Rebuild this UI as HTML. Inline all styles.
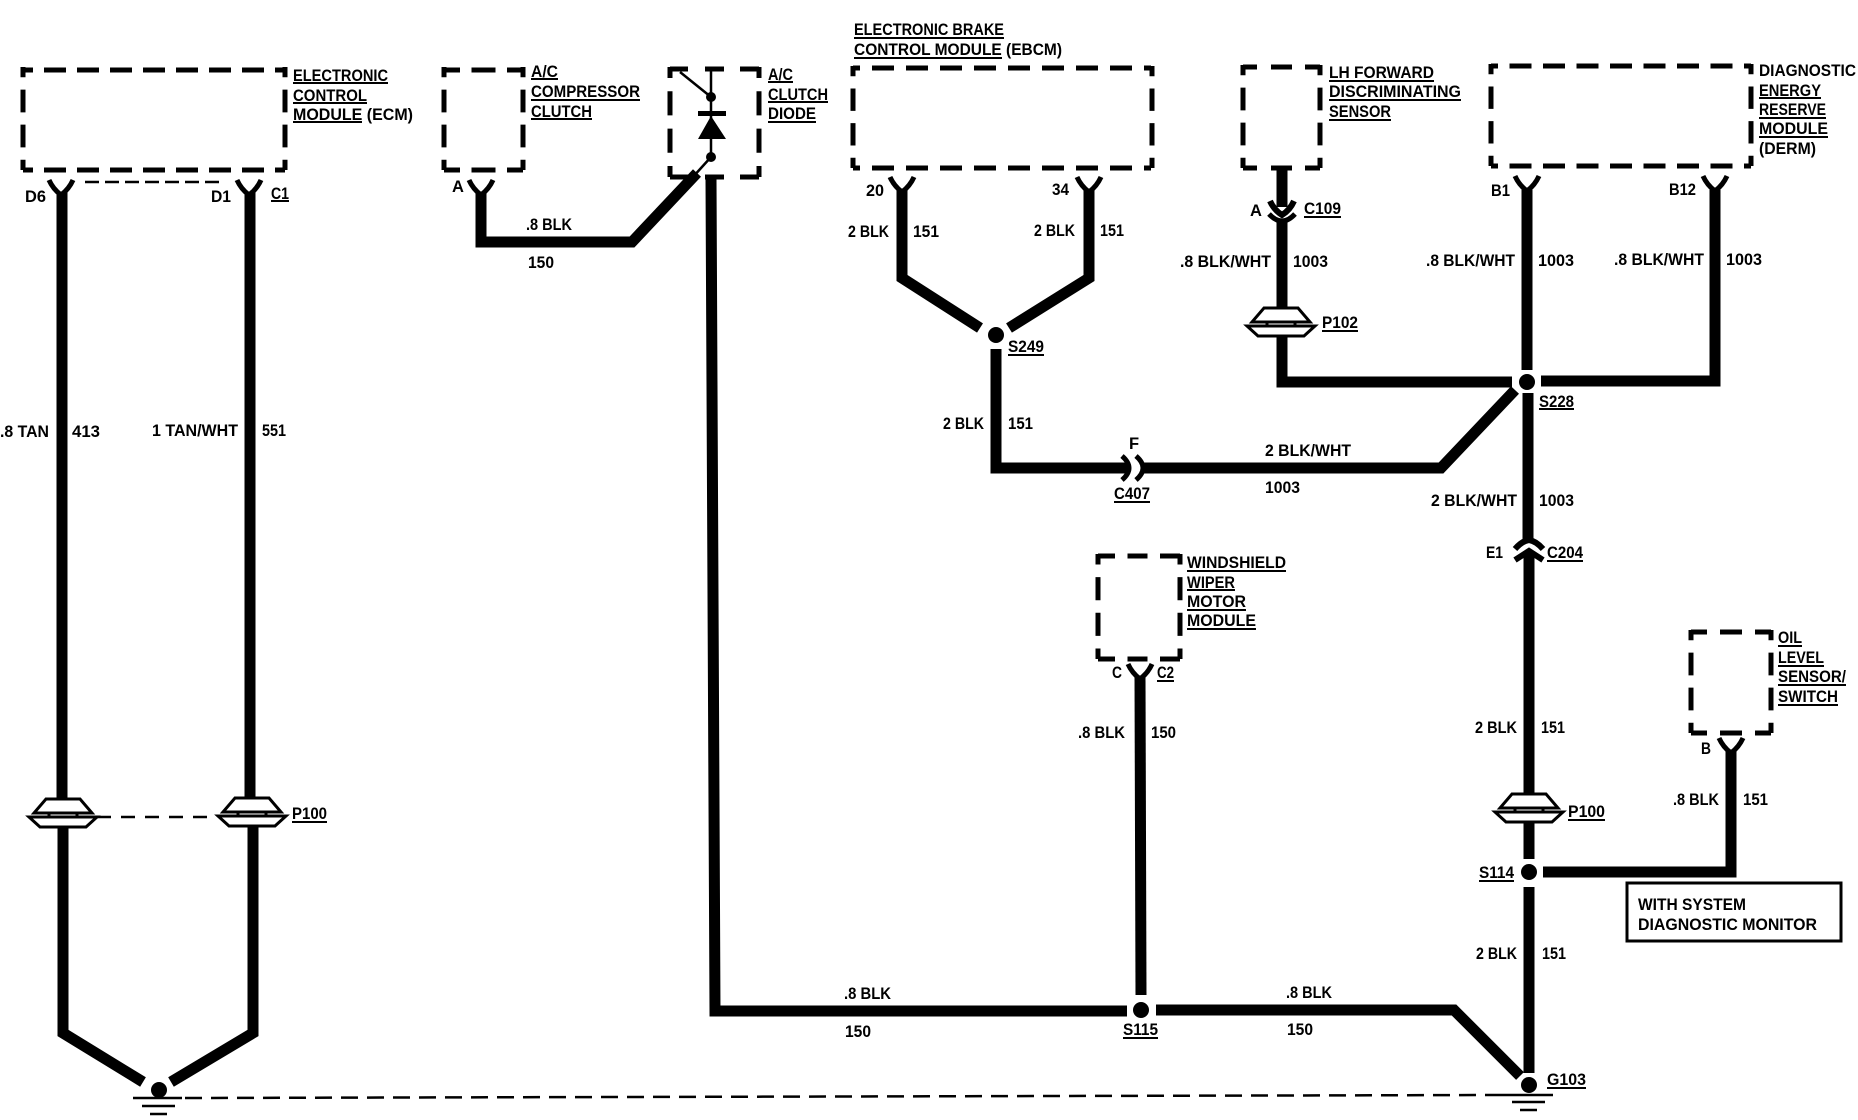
<!DOCTYPE html>
<html><head><meta charset="utf-8"><style>
html,body{margin:0;padding:0;background:#fff}
svg{display:block}
text{font-family:"Liberation Sans",sans-serif;font-weight:bold;font-size:16.5px;fill:#000}
.w{fill:none;stroke:#000;stroke-width:11;stroke-linejoin:miter}
.b{fill:none;stroke:#000;stroke-width:5}
.y{fill:none;stroke:#000;stroke-width:5}
.t{fill:none;stroke:#000;stroke-width:2.5}
.ul{fill:none;stroke:#000;stroke-width:2}
.v{stroke-dasharray:10 12 22 12 22 12 10}
</style></head><body>
<svg width="1858" height="1120" viewBox="0 0 1858 1120" xmlns="http://www.w3.org/2000/svg">
<defs>
<g id="y"><path class="y" d="M-12 0Q-8 9 0 15Q8 9 12 0"/></g>
<g id="cl"><path d="M-17-18H17L29-4H-29Z" fill="#fff" stroke="#000" stroke-width="3"/><path d="M-34 0H34L23 10H-23Z" fill="#fff" stroke="#000" stroke-width="3"/><path d="M-14-4V0M14-4V0" stroke="#000" stroke-width="3"/></g>
</defs>
<rect width="1858" height="1120" fill="#fff"/>

<!-- dashed boxes -->
<path class="b" d="M23 70H285M23 170H285" stroke-dasharray="10 11 22 11 22 11 22 11 22 11 22 11 22 11 22 11 10 500"/>
<path class="b v" d="M23 67V170" pathLength="100"/><path class="b v" d="M285 67V170" pathLength="100"/>
<path class="b" d="M444 70H523M444 170H523" stroke-dasharray="16 11.5 24 11.5 16 500"/>
<path class="b v" d="M444 67V170" pathLength="100"/><path class="b v" d="M523 67V170" pathLength="100"/>
<path class="b" d="M670 69H759M670 177H759" stroke-dasharray="18 17 19 16 19 500"/>
<path class="b v" d="M670 67V177" pathLength="100"/><path class="b v" d="M759 67V177" pathLength="100"/>
<path class="b" d="M853 68H1152M853 168H1152" stroke-dasharray="7 12 22 12 22 12 22 12 22 12 22 12 22 12 22 12 22 12 7 500"/>
<path class="b v" d="M853 66V168" pathLength="100"/><path class="b v" d="M1152 66V168" pathLength="100"/>
<path class="b" d="M1243 67H1320M1243 168H1320" stroke-dasharray="14 14 21 13 15 500"/>
<path class="b v" d="M1243 65V168" pathLength="100"/><path class="b v" d="M1320 65V168" pathLength="100"/>
<path class="b" d="M1491 66H1751M1491 166H1751" stroke-dasharray="7 11.5 22 11.5 22 11.5 22 11.5 22 11.5 22 11.5 22 11.5 22 11.5 7 500"/>
<path class="b v" d="M1491 64V166" pathLength="100"/><path class="b v" d="M1751 64V166" pathLength="100"/>
<path class="b" d="M1098 556H1180M1098 659H1180" stroke-dasharray="17 12.5 20 12.5 20 500"/>
<path class="b v" d="M1098 554V659" pathLength="100"/><path class="b v" d="M1180 554V659" pathLength="100"/>
<path class="b" d="M1691 632H1771M1691 733H1771" stroke-dasharray="16 13 22 13 16 500"/>
<path class="b v" d="M1691 630V733" pathLength="100"/><path class="b v" d="M1771 630V733" pathLength="100"/>

<!-- Y connectors -->
<use href="#y" x="61" y="180"/><use href="#y" x="249" y="180"/><use href="#y" x="481" y="180"/>
<use href="#y" x="902" y="177"/><use href="#y" x="1089" y="177"/>
<use href="#y" x="1527" y="176"/><use href="#y" x="1715" y="176"/>
<use href="#y" x="1140" y="664"/><use href="#y" x="1731" y="738"/>

<!-- thin dashed -->
<path class="t" d="M85 182H225" stroke-dasharray="14 6"/>
<path class="t" d="M97 817H217" stroke-dasharray="14 10"/>
<path class="t" d="M185 1098L1495 1095" stroke-dasharray="17 9"/>

<!-- wires -->
<path class="w" d="M62 192V799M63 827V1033L143 1082"/>
<path class="w" d="M250 192V799M253 827V1033L171 1082"/>
<path class="w" d="M481 193V242H632L697 173"/>
<path class="w" d="M711 178L715 1011H1127"/>
<path class="w" d="M1156 1010H1454L1520 1076"/>
<path class="w" d="M1140 676L1141 995"/>
<path class="w" d="M902 190V278L980 328"/>
<path class="w" d="M1089 190V278L1009 328"/>
<path class="w" d="M996 349V468H1130"/>
<path class="w" d="M1144 468H1441L1515 390"/>
<path class="w" d="M1282 168V207M1282 222V308M1282 334V382H1512"/>
<path class="w" d="M1541 381H1715V190"/>
<path class="w" d="M1527 190V370M1528 393V543"/>
<path class="w" d="M1529 553V794M1529 822V859M1529 887V1073"/>
<path class="w" d="M1543 872H1731V750"/>

<!-- diode -->
<path class="t" d="M711 70V157M680 72L711 97M711 157L692 178"/>
<circle cx="711" cy="97" r="5"/><circle cx="711" cy="157" r="5"/>
<path d="M698 111H726V116H698ZM711 116L726 139H698Z"/>

<!-- connectors -->
<path class="y" style="stroke-width:6" d="M1270 201Q1274 210 1282 215Q1290 210 1294 201"/>
<path class="y" d="M1269 214Q1282 228 1295 214"/>
<path class="y" style="stroke-width:6" d="M1515 549Q1522 541 1529 540Q1536 541 1543 549"/>
<path class="y" style="stroke-width:6" d="M1515 560L1529 551L1543 560"/>
<path class="y" d="M1122 456Q1136 468 1122 480M1136 456Q1150 468 1136 480"/>
<use href="#cl" x="63" y="817"/><use href="#cl" x="252" y="816"/>
<use href="#cl" x="1281" y="326"/><use href="#cl" x="1529" y="812"/>

<!-- dots -->
<circle cx="159" cy="1090" r="8"/><circle cx="996" cy="335" r="8"/><circle cx="1527" cy="382" r="8"/>
<circle cx="1529" cy="872" r="8"/><circle cx="1141" cy="1010" r="8"/><circle cx="1529" cy="1085" r="8"/>

<!-- grounds -->
<path class="t" d="M133 1098H182M142 1106H175M150 1114H167" stroke-width="3"/>
<path class="t" d="M1495 1095H1553M1512 1102H1545M1520 1110H1537" stroke-width="3"/>

<!-- box -->
<rect x="1627" y="883" width="214" height="58" fill="#fff" stroke="#000" stroke-width="3"/>

<!-- underlines -->
<path class="ul" d="M293 83H388M293 103H367M293 122H362M271 201H289M531 79H558M531 100H640M531 119H592M768 82H793M768 102H828M768 122H816M854 38H1004M854 58H1002M1329 81H1434M1329 100H1461M1329 120H1391M1759 98H1821M1759 118H1826M1759 137H1828M1304 217H1341M1322 331H1358M1008 355H1044M1539 409H1574M1114 502H1150M1547 561H1583M1187 571H1286M1187 590H1235M1187 610H1246M1187 629H1256M1157 681H1174M1778 646H1802M1778 666H1824M1778 685H1846M1778 705H1838M1568 820H1605M1479 881H1514M1123 1038H1158M1547 1088H1586M292 822H327"/>

<!-- labels -->
<text x="293" y="81" textLength="95" lengthAdjust="spacingAndGlyphs">ELECTRONIC</text>
<text x="293" y="101" textLength="74" lengthAdjust="spacingAndGlyphs">CONTROL</text>
<text x="293" y="120" textLength="120" lengthAdjust="spacingAndGlyphs">MODULE (ECM)</text>
<text x="25" y="202" textLength="21" lengthAdjust="spacingAndGlyphs">D6</text>
<text x="211" y="202" textLength="20" lengthAdjust="spacingAndGlyphs">D1</text>
<text x="271" y="199" textLength="18" lengthAdjust="spacingAndGlyphs">C1</text>
<text x="452" y="192">A</text>
<text x="526" y="230" textLength="46" lengthAdjust="spacingAndGlyphs">.8 BLK</text>
<text x="528" y="268" textLength="26" lengthAdjust="spacingAndGlyphs">150</text>
<text x="531" y="77" textLength="27" lengthAdjust="spacingAndGlyphs">A/C</text>
<text x="531" y="97" textLength="109" lengthAdjust="spacingAndGlyphs">COMPRESSOR</text>
<text x="531" y="117" textLength="61" lengthAdjust="spacingAndGlyphs">CLUTCH</text>
<text x="768" y="80" textLength="25" lengthAdjust="spacingAndGlyphs">A/C</text>
<text x="768" y="100" textLength="60" lengthAdjust="spacingAndGlyphs">CLUTCH</text>
<text x="768" y="119" textLength="48" lengthAdjust="spacingAndGlyphs">DIODE</text>
<text x="0" y="437" textLength="49" lengthAdjust="spacingAndGlyphs">.8 TAN</text>
<text x="72" y="437" textLength="28" lengthAdjust="spacingAndGlyphs">413</text>
<text x="152" y="436" textLength="86" lengthAdjust="spacingAndGlyphs">1 TAN/WHT</text>
<text x="262" y="436" textLength="24" lengthAdjust="spacingAndGlyphs">551</text>
<text x="854" y="35" textLength="150" lengthAdjust="spacingAndGlyphs">ELECTRONIC BRAKE</text>
<text x="854" y="55" textLength="208" lengthAdjust="spacingAndGlyphs">CONTROL MODULE (EBCM)</text>
<text x="1329" y="78" textLength="105" lengthAdjust="spacingAndGlyphs">LH FORWARD</text>
<text x="1329" y="97" textLength="132" lengthAdjust="spacingAndGlyphs">DISCRIMINATING</text>
<text x="1329" y="117" textLength="62" lengthAdjust="spacingAndGlyphs">SENSOR</text>
<text x="1759" y="76" textLength="97" lengthAdjust="spacingAndGlyphs">DIAGNOSTIC</text>
<text x="1759" y="96" textLength="62" lengthAdjust="spacingAndGlyphs">ENERGY</text>
<text x="1759" y="115" textLength="67" lengthAdjust="spacingAndGlyphs">RESERVE</text>
<text x="1759" y="134" textLength="69" lengthAdjust="spacingAndGlyphs">MODULE</text>
<text x="1759" y="154" textLength="57" lengthAdjust="spacingAndGlyphs">(DERM)</text>
<text x="866" y="196" textLength="18" lengthAdjust="spacingAndGlyphs">20</text>
<text x="1052" y="195" textLength="17" lengthAdjust="spacingAndGlyphs">34</text>
<text x="848" y="237" textLength="41" lengthAdjust="spacingAndGlyphs">2 BLK</text>
<text x="913" y="237" textLength="26" lengthAdjust="spacingAndGlyphs">151</text>
<text x="1034" y="236" textLength="41" lengthAdjust="spacingAndGlyphs">2 BLK</text>
<text x="1100" y="236" textLength="24" lengthAdjust="spacingAndGlyphs">151</text>
<text x="1250" y="216">A</text>
<text x="1304" y="214" textLength="37" lengthAdjust="spacingAndGlyphs">C109</text>
<text x="1180" y="267" textLength="91" lengthAdjust="spacingAndGlyphs">.8 BLK/WHT</text>
<text x="1293" y="267" textLength="35" lengthAdjust="spacingAndGlyphs">1003</text>
<text x="1426" y="266" textLength="89" lengthAdjust="spacingAndGlyphs">.8 BLK/WHT</text>
<text x="1538" y="266" textLength="36" lengthAdjust="spacingAndGlyphs">1003</text>
<text x="1614" y="265" textLength="90" lengthAdjust="spacingAndGlyphs">.8 BLK/WHT</text>
<text x="1726" y="265" textLength="36" lengthAdjust="spacingAndGlyphs">1003</text>
<text x="1491" y="196" textLength="19" lengthAdjust="spacingAndGlyphs">B1</text>
<text x="1669" y="195" textLength="27" lengthAdjust="spacingAndGlyphs">B12</text>
<text x="1322" y="328" textLength="36" lengthAdjust="spacingAndGlyphs">P102</text>
<text x="1008" y="352" textLength="36" lengthAdjust="spacingAndGlyphs">S249</text>
<text x="1539" y="407" textLength="35" lengthAdjust="spacingAndGlyphs">S228</text>
<text x="943" y="429" textLength="41" lengthAdjust="spacingAndGlyphs">2 BLK</text>
<text x="1008" y="429" textLength="25" lengthAdjust="spacingAndGlyphs">151</text>
<text x="1129" y="449">F</text>
<text x="1265" y="456" textLength="86" lengthAdjust="spacingAndGlyphs">2 BLK/WHT</text>
<text x="1265" y="493" textLength="35" lengthAdjust="spacingAndGlyphs">1003</text>
<text x="1114" y="499" textLength="36" lengthAdjust="spacingAndGlyphs">C407</text>
<text x="1431" y="506" textLength="86" lengthAdjust="spacingAndGlyphs">2 BLK/WHT</text>
<text x="1539" y="506" textLength="35" lengthAdjust="spacingAndGlyphs">1003</text>
<text x="1486" y="558" textLength="17" lengthAdjust="spacingAndGlyphs">E1</text>
<text x="1547" y="558" textLength="36" lengthAdjust="spacingAndGlyphs">C204</text>
<text x="1187" y="568" textLength="99" lengthAdjust="spacingAndGlyphs">WINDSHIELD</text>
<text x="1187" y="588" textLength="48" lengthAdjust="spacingAndGlyphs">WIPER</text>
<text x="1187" y="607" textLength="59" lengthAdjust="spacingAndGlyphs">MOTOR</text>
<text x="1187" y="626" textLength="69" lengthAdjust="spacingAndGlyphs">MODULE</text>
<text x="1112" y="678" textLength="10" lengthAdjust="spacingAndGlyphs">C</text>
<text x="1157" y="678" textLength="17" lengthAdjust="spacingAndGlyphs">C2</text>
<text x="1078" y="738" textLength="47" lengthAdjust="spacingAndGlyphs">.8 BLK</text>
<text x="1151" y="738" textLength="25" lengthAdjust="spacingAndGlyphs">150</text>
<text x="1778" y="643" textLength="24" lengthAdjust="spacingAndGlyphs">OIL</text>
<text x="1778" y="663" textLength="46" lengthAdjust="spacingAndGlyphs">LEVEL</text>
<text x="1778" y="682" textLength="68" lengthAdjust="spacingAndGlyphs">SENSOR/</text>
<text x="1778" y="702" textLength="60" lengthAdjust="spacingAndGlyphs">SWITCH</text>
<text x="1701" y="754" textLength="10" lengthAdjust="spacingAndGlyphs">B</text>
<text x="1475" y="733" textLength="42" lengthAdjust="spacingAndGlyphs">2 BLK</text>
<text x="1541" y="733" textLength="24" lengthAdjust="spacingAndGlyphs">151</text>
<text x="1673" y="805" textLength="46" lengthAdjust="spacingAndGlyphs">.8 BLK</text>
<text x="1743" y="805" textLength="25" lengthAdjust="spacingAndGlyphs">151</text>
<text x="1568" y="817" textLength="37" lengthAdjust="spacingAndGlyphs">P100</text>
<text x="1479" y="878" textLength="35" lengthAdjust="spacingAndGlyphs">S114</text>
<text x="1638" y="910" textLength="108" lengthAdjust="spacingAndGlyphs">WITH SYSTEM</text>
<text x="1638" y="930" textLength="179" lengthAdjust="spacingAndGlyphs">DIAGNOSTIC MONITOR</text>
<text x="1476" y="959" textLength="41" lengthAdjust="spacingAndGlyphs">2 BLK</text>
<text x="1542" y="959" textLength="24" lengthAdjust="spacingAndGlyphs">151</text>
<text x="1286" y="998" textLength="46" lengthAdjust="spacingAndGlyphs">.8 BLK</text>
<text x="1287" y="1035" textLength="26" lengthAdjust="spacingAndGlyphs">150</text>
<text x="1123" y="1035" textLength="35" lengthAdjust="spacingAndGlyphs">S115</text>
<text x="1547" y="1085" textLength="39" lengthAdjust="spacingAndGlyphs">G103</text>
<text x="844" y="999" textLength="47" lengthAdjust="spacingAndGlyphs">.8 BLK</text>
<text x="845" y="1037" textLength="26" lengthAdjust="spacingAndGlyphs">150</text>
<text x="292" y="819" textLength="35" lengthAdjust="spacingAndGlyphs">P100</text>
</svg>
</body></html>
